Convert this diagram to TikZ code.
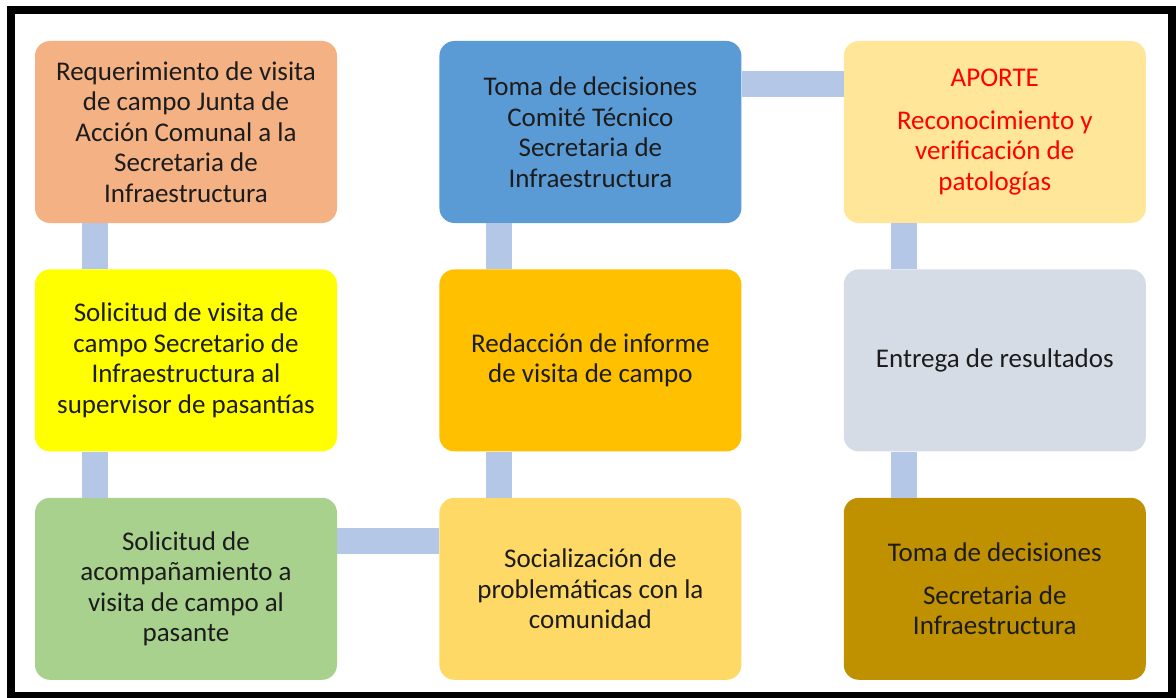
\documentclass[tikz,border=0pt]{standalone}
\usepackage{fontspec}
\setmainfont{Carlito}
\usepackage{xcolor}
\usetikzlibrary{positioning}
\definecolor{boxsalmon}{HTML}{F4B183}
\definecolor{boxyellow}{HTML}{FFFF00}
\definecolor{boxgreen}{HTML}{A9D18E}
\definecolor{boxblue}{HTML}{5B9BD5}
\definecolor{boxorange}{HTML}{FFC000}
\definecolor{boxgold}{HTML}{FFD966}
\definecolor{boxcream}{HTML}{FFE699}
\definecolor{boxgray}{HTML}{D6DCE5}
\definecolor{boxbrown}{HTML}{BF9000}
\definecolor{linkblue}{HTML}{B4C7E7}
\definecolor{txtdark}{HTML}{1C1C1C}
\definecolor{aportered}{HTML}{FF0000}

\begin{document}
\begin{tikzpicture}[
  x=1pt,y=1pt,
  node distance=46pt and 102pt,
  every node/.style={font=\fontsize{27}{30.5}\selectfont,align=center,text=txtdark},
  box/.style={rounded corners=15pt,minimum width=302pt,minimum height=182pt,inner sep=0pt},
  link/.style={line width=26pt,draw=linkblue}
]
\useasboundingbox (0,0) rectangle (1176,-698);
\fill[white] (0,0) rectangle (1176,-698);
\draw[line width=8pt] (11,-10) rectangle (1172,-696);
\node[box,fill=boxsalmon] (req) at (186,-132) {Requerimiento de visita\\de campo Junta de\\Acción Comunal a la\\Secretaria de\\Infraestructura};
\node[box,fill=boxyellow,below=of req] (sol) {Solicitud de visita de\\campo Secretario de\\Infraestructura al\\supervisor de pasantías};
\node[box,fill=boxgreen,below=of sol] (acomp) {Solicitud de\\acompañamiento a\\visita de campo al\\pasante};
\node[box,fill=boxgold,right=of acomp] (soc) {Socialización de\\problemáticas con la\\comunidad};
\node[box,fill=boxorange,above=of soc] (redac) {Redacción de informe\\de visita de campo};
\node[box,fill=boxblue,above=of redac] (toma) {Toma de decisiones\\Comité Técnico\\Secretaria de\\Infraestructura};
\node[box,fill=boxcream,right=of toma,text=aportered] (aporte) {APORTE\\[12pt]Reconocimiento y\\verificación de\\patologías};
\node[box,fill=boxgray,below=of aporte] (entrega) {Entrega de resultados};
\node[box,fill=boxbrown,below=of entrega] (final) {Toma de decisiones\\[12pt]Secretaria de\\Infraestructura};
% connecting bars
\draw[link] ([xshift=60pt]req.south west) -- ([xshift=60pt]sol.north west);
\draw[link] ([xshift=60pt]sol.south west) -- ([xshift=60pt]acomp.north west);
\draw[link] ([yshift=-43pt]acomp.north east) -- ([yshift=-43pt]soc.north west);
\draw[link] ([xshift=60pt]soc.north west) -- ([xshift=60pt]redac.south west);
\draw[link] ([xshift=60pt]redac.north west) -- ([xshift=60pt]toma.south west);
\draw[link] ([yshift=-43pt]toma.north east) -- ([yshift=-43pt]aporte.north west);
\draw[link] ([xshift=60pt]aporte.south west) -- ([xshift=60pt]entrega.north west);
\draw[link] ([xshift=60pt]entrega.south west) -- ([xshift=60pt]final.north west);
\end{tikzpicture}
\end{document}
